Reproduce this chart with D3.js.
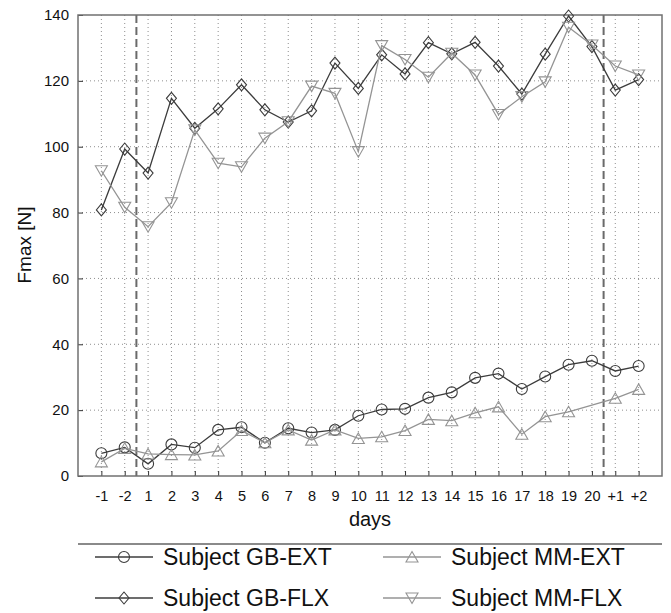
<!DOCTYPE html>
<html>
<head>
<meta charset="utf-8">
<script src="https://cdn.jsdelivr.net/npm/d3@7"></script>
<style>
  html, body { margin: 0; padding: 0; background: #fff; }
  svg { display: block; font-family: "Liberation Sans", Arial, Helvetica, sans-serif; }
</style>
</head>
<body>
<svg id="chart" width="671" height="613"></svg>
<script>
// Training days: two baseline days, 20 training days, two follow-up days
const days = ["-1", "-2", "1", "2", "3", "4", "5", "6", "7", "8", "9", "10",
              "11", "12", "13", "14", "15", "16", "17", "18", "19", "20", "+1", "+2"];

// Maximal force per day [N]
const gbExt = [6.9, 8.7, 3.7, 9.6, 8.6, 14.0, 14.8, 10.1, 14.5, 13.2, 14.0, 18.3,
               20.2, 20.4, 23.8, 25.4, 29.8, 31.1, 26.4, 30.2, 33.8, 35.0, 31.9, 33.4];
const mmExt = [4.3, 8.4, 6.7, 6.5, 6.4, 7.6, 13.8, 10.1, 14.0, 10.9, 14.0, 11.4,
               11.9, 13.8, 17.2, 16.8, 19.2, 21.0, 12.7, 18.0, 19.5, null, 23.6, 26.3];
const gbFlx = [80.8, 99.3, 92.0, 114.7, 105.6, 111.5, 118.8, 111.2, 107.5, 110.9, 125.4, 117.7,
               127.9, 122.1, 131.6, 128.2, 131.7, 124.5, 116.0, 128.1, 139.7, 130.4, 117.2, 120.4];
const mmFlx = [92.7, 81.6, 75.7, 83.0, 105.1, 95.0, 93.9, 102.6, 107.6, 118.4, 116.2, 98.5,
               130.7, 126.5, 121.1, 128.4, 121.8, 109.8, 115.2, 119.7, 136.3, 130.9, 124.5, 121.8];

const yTicks = [0, 20, 40, 60, 80, 100, 120, 140];
const seriesNames = ["Subject GB-EXT", "Subject MM-EXT", "Subject GB-FLX", "Subject MM-FLX"];
// Phase boundaries: between baseline and training, and training and follow-up
const phaseBreaks = [["-2", "1"], ["20", "+1"]];

const margin = { left: 78, top: 15, right: 9, bottom: 137 };
const W = 671, H = 613;
const plotW = W - margin.left - margin.right;
const plotH = H - margin.top - margin.bottom;

const svg = d3.select("#chart");
const g = svg.append("g").attr("transform", `translate(${margin.left},${margin.top})`);

const x = d3.scalePoint().domain(days).range([0, plotW]).padding(1);
const y = d3.scaleLinear().domain([0, 140]).range([plotH, 0]);

const frameColor = "#707070";
const gridColor = "#8e8e8e";
const darkColor = "#3c3c3c";
const lightColor = "#949494";

// Dotted grid
g.append("g").selectAll("line").data(days).join("line")
  .attr("x1", d => x(d)).attr("x2", d => x(d))
  .attr("y1", 0).attr("y2", plotH)
  .attr("stroke", gridColor).attr("stroke-width", 1)
  .attr("stroke-dasharray", "1,3");
g.append("g").selectAll("line").data(yTicks.filter(t => t > 0 && t < 140)).join("line")
  .attr("x1", 0).attr("x2", plotW)
  .attr("y1", d => y(d)).attr("y2", d => y(d))
  .attr("stroke", gridColor).attr("stroke-width", 1)
  .attr("stroke-dasharray", "1,3");

// Dashed phase separators
g.append("g").selectAll("line").data(phaseBreaks).join("line")
  .attr("x1", d => (x(d[0]) + x(d[1])) / 2).attr("x2", d => (x(d[0]) + x(d[1])) / 2)
  .attr("y1", 0).attr("y2", plotH)
  .attr("stroke", "#6a6a6a").attr("stroke-width", 2)
  .attr("stroke-dasharray", "8,4");

// Axes with inward ticks
const xAxis = g.append("g").attr("transform", `translate(0,${plotH})`)
  .call(d3.axisBottom(x).tickSizeInner(-5).tickSizeOuter(0).tickPadding(15));
const yAxis = g.append("g")
  .call(d3.axisLeft(y).tickValues(yTicks).tickSizeInner(-5).tickSizeOuter(0).tickPadding(9));
[xAxis, yAxis].forEach(a => {
  a.select(".domain").remove();
  a.selectAll(".tick line").attr("stroke", "#333").attr("stroke-width", 1);
  a.selectAll(".tick text").attr("fill", "#111").attr("font-family", "'Liberation Sans', Arial, sans-serif");
});
xAxis.selectAll(".tick text").attr("font-size", 14.5);
yAxis.selectAll(".tick text").attr("font-size", 15);

// Frame
g.append("rect").attr("x", 0).attr("y", 0).attr("width", plotW).attr("height", plotH)
  .attr("fill", "none").attr("stroke", frameColor).attr("stroke-width", 1.5);

// Marker shapes
const markers = {
  circle: "M5.5,0A5.5,5.5 0 1,1 -5.5,0A5.5,5.5 0 1,1 5.5,0Z",
  diamond: "M0,-6L5,0L0,6L-5,0Z",
  up: "M0,-5.5L6,5L-6,5Z",
  down: "M0,5.5L6,-5L-6,-5Z"
};

const series = [
  { name: seriesNames[0], values: gbExt, color: darkColor, marker: "circle" },
  { name: seriesNames[1], values: mmExt, color: lightColor, marker: "up" },
  { name: seriesNames[2], values: gbFlx, color: darkColor, marker: "diamond" },
  { name: seriesNames[3], values: mmFlx, color: lightColor, marker: "down" }
];

const line = d3.line().x(d => x(d.day)).y(d => y(d.v));

series.forEach(s => {
  const pts = days.map((day, i) => ({ day, v: s.values[i] })).filter(p => p.v !== null);
  g.append("path").datum(pts)
    .attr("d", line)
    .attr("fill", "none").attr("stroke", s.color).attr("stroke-width", 1.3);
  g.append("g").selectAll("path").data(pts).join("path")
    .attr("transform", p => `translate(${x(p.day)},${y(p.v)})`)
    .attr("d", markers[s.marker])
    .attr("fill", "none").attr("stroke", s.color).attr("stroke-width", 1.1);
});

// Axis titles
svg.append("text")
  .attr("transform", "translate(24,245) rotate(-90)")
  .attr("text-anchor", "middle").attr("dominant-baseline", "central")
  .attr("font-size", 19).attr("fill", "#111").text("Fmax [N]");
svg.append("text")
  .attr("x", margin.left + plotW / 2).attr("y", 526)
  .attr("text-anchor", "middle").attr("font-size", 20).attr("fill", "#111").text("days");

// Legend
const legend = svg.append("g");
legend.append("line").attr("x1", margin.left).attr("x2", margin.left + plotW)
  .attr("y1", 544).attr("y2", 544).attr("stroke", "#8a8a8a").attr("stroke-width", 2);

const legendPos = [
  { x: 95, y: 557 }, { x: 383, y: 557 },
  { x: 95, y: 598 }, { x: 383, y: 598 }
];
series.forEach((s, i) => {
  const p = legendPos[i];
  const item = legend.append("g").attr("transform", `translate(${p.x},${p.y})`);
  item.append("line").attr("x1", 0).attr("x2", 58).attr("y1", 0).attr("y2", 0)
    .attr("stroke", s.color).attr("stroke-width", 1.3);
  item.append("path").attr("transform", "translate(29,0)").attr("d", markers[s.marker])
    .attr("fill", "none").attr("stroke", s.color).attr("stroke-width", 1.1);
  item.append("text").attr("x", 68).attr("y", 8)
    .attr("font-size", 23).attr("fill", "#111").text(s.name);
});
</script>
</body>
</html>
